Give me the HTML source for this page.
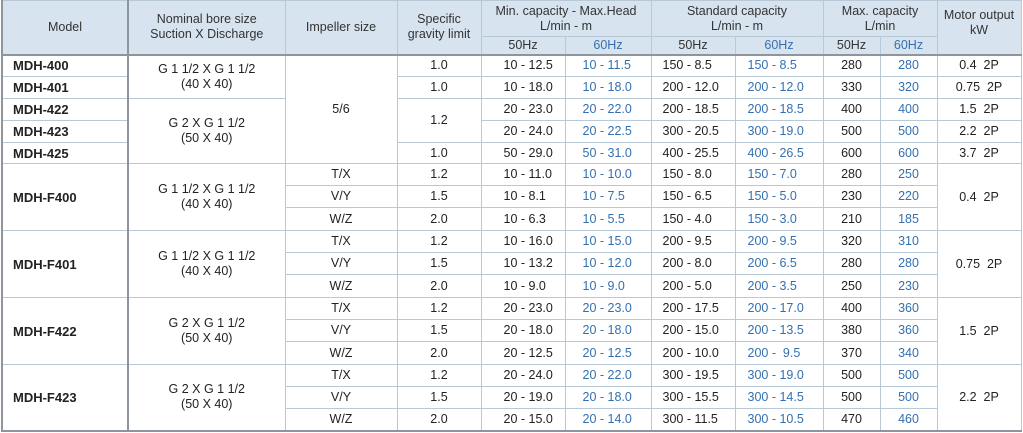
<!DOCTYPE html>
<html><head><meta charset="utf-8"><style>
html,body{margin:0;padding:0;background:#fff;width:1023px;height:433px;overflow:hidden}
table{border-collapse:collapse;table-layout:fixed;font-family:"Liberation Sans",sans-serif;font-size:12.5px;color:#222;position:absolute;left:1px;top:0}
td{border:1px solid #b7c8d7;padding:0;text-align:center;white-space:nowrap;overflow:hidden;line-height:15px}
thead td{background:#d7e4ef;color:#333}
.b{color:#3470b0}
.l{text-align:left}
.m{text-align:left;font-weight:bold;padding-left:10px;font-size:13px}
.tl{border-left:2px solid #8f959c}
.mc{border-right:2px solid #8f959c}
td.hb{border-bottom:2px solid #8f959c}
tr.g td{border-top:1px solid #a9bccc}
tr.last td, td.bb{border-bottom:2px solid #8f959c}
.p1{padding-left:22px}.p2{padding-left:17px}.p3{padding-left:11px}.p4{padding-left:12px}
</style></head><body>
<table>
<colgroup><col style="width:126px"><col style="width:157px"><col style="width:112px"><col style="width:84px"><col style="width:84px"><col style="width:86px"><col style="width:84px"><col style="width:88px"><col style="width:57px"><col style="width:57px"><col style="width:84px"></colgroup>
<thead>
<tr style="height:36px"><td rowspan="2" class="tl mc hb">Model</td><td rowspan="2" class="hb">Nominal bore size<br>Suction X Discharge</td><td rowspan="2" class="hb">Impeller size</td><td rowspan="2" class="hb">Specific<br>gravity limit</td><td colspan="2">Min. capacity - Max.Head<br>L/min - m</td><td colspan="2">Standard capacity<br>L/min - m</td><td colspan="2">Max. capacity<br>L/min</td><td rowspan="2" class="hb" style="vertical-align:top;padding-top:7px">Motor output<br>kW</td></tr>
<tr style="height:18px"><td class="hb">50Hz</td><td class="b hb">60Hz</td><td class="hb">50Hz</td><td class="b hb">60Hz</td><td class="hb">50Hz</td><td class="b hb">60Hz</td></tr>
</thead>
<tbody>
<tr style="height:22px"><td class="m tl mc">MDH-400</td><td rowspan="2">G 1 1/2 X G 1 1/2<br>(40 X 40)</td><td rowspan="5">5/6</td><td>1.0</td><td class="l p1">10 - 12.5</td><td class="l p2 b">10 - 11.5</td><td class="l p3">150 - 8.5</td><td class="l p4 b">150 - 8.5</td><td>280</td><td class="b">280</td><td>0.4&nbsp; 2P</td></tr>
<tr style="height:22px"><td class="m tl mc">MDH-401</td><td>1.0</td><td class="l p1">10 - 18.0</td><td class="l p2 b">10 - 18.0</td><td class="l p3">200 - 12.0</td><td class="l p4 b">200 - 12.0</td><td>330</td><td class="b">320</td><td>0.75&nbsp; 2P</td></tr>
<tr style="height:22px"><td class="m tl mc">MDH-422</td><td rowspan="3">G 2 X G 1 1/2<br>(50 X 40)</td><td rowspan="2">1.2</td><td class="l p1">20 - 23.0</td><td class="l p2 b">20 - 22.0</td><td class="l p3">200 - 18.5</td><td class="l p4 b">200 - 18.5</td><td>400</td><td class="b">400</td><td>1.5&nbsp; 2P</td></tr>
<tr style="height:22px"><td class="m tl mc">MDH-423</td><td class="l p1">20 - 24.0</td><td class="l p2 b">20 - 22.5</td><td class="l p3">300 - 20.5</td><td class="l p4 b">300 - 19.0</td><td>500</td><td class="b">500</td><td>2.2&nbsp; 2P</td></tr>
<tr style="height:21px"><td class="m tl mc">MDH-425</td><td>1.0</td><td class="l p1">50 - 29.0</td><td class="l p2 b">50 - 31.0</td><td class="l p3">400 - 25.5</td><td class="l p4 b">400 - 26.5</td><td>600</td><td class="b">600</td><td>3.7&nbsp; 2P</td></tr>

<tr style="height:22px" class="g"><td rowspan="3" class="m tl mc">MDH-F400</td><td rowspan="3">G 1 1/2 X G 1 1/2<br>(40 X 40)</td><td>T/X</td><td>1.2</td><td class="l p1">10 - 11.0</td><td class="l p2 b">10 - 10.0</td><td class="l p3">150 - 8.0</td><td class="l p4 b">150 - 7.0</td><td>280</td><td class="b">250</td><td rowspan="3">0.4&nbsp; 2P</td></tr>
<tr style="height:22px"><td>V/Y</td><td>1.5</td><td class="l p1">10 - 8.1</td><td class="l p2 b">10 - 7.5</td><td class="l p3">150 - 6.5</td><td class="l p4 b">150 - 5.0</td><td>230</td><td class="b">220</td></tr>
<tr style="height:23px"><td>W/Z</td><td>2.0</td><td class="l p1">10 - 6.3</td><td class="l p2 b">10 - 5.5</td><td class="l p3">150 - 4.0</td><td class="l p4 b">150 - 3.0</td><td>210</td><td class="b">185</td></tr>

<tr style="height:22px" class="g"><td rowspan="3" class="m tl mc">MDH-F401</td><td rowspan="3">G 1 1/2 X G 1 1/2<br>(40 X 40)</td><td>T/X</td><td>1.2</td><td class="l p1">10 - 16.0</td><td class="l p2 b">10 - 15.0</td><td class="l p3">200 - 9.5</td><td class="l p4 b">200 - 9.5</td><td>320</td><td class="b">310</td><td rowspan="3">0.75&nbsp; 2P</td></tr>
<tr style="height:22px"><td>V/Y</td><td>1.5</td><td class="l p1">10 - 13.2</td><td class="l p2 b">10 - 12.0</td><td class="l p3">200 - 8.0</td><td class="l p4 b">200 - 6.5</td><td>280</td><td class="b">280</td></tr>
<tr style="height:23px"><td>W/Z</td><td>2.0</td><td class="l p1">10 - 9.0</td><td class="l p2 b">10 - 9.0</td><td class="l p3">200 - 5.0</td><td class="l p4 b">200 - 3.5</td><td>250</td><td class="b">230</td></tr>

<tr style="height:22px" class="g"><td rowspan="3" class="m tl mc">MDH-F422</td><td rowspan="3">G 2 X G 1 1/2<br>(50 X 40)</td><td>T/X</td><td>1.2</td><td class="l p1">20 - 23.0</td><td class="l p2 b">20 - 23.0</td><td class="l p3">200 - 17.5</td><td class="l p4 b">200 - 17.0</td><td>400</td><td class="b">360</td><td rowspan="3">1.5&nbsp; 2P</td></tr>
<tr style="height:22px"><td>V/Y</td><td>1.5</td><td class="l p1">20 - 18.0</td><td class="l p2 b">20 - 18.0</td><td class="l p3">200 - 15.0</td><td class="l p4 b">200 - 13.5</td><td>380</td><td class="b">360</td></tr>
<tr style="height:23px"><td>W/Z</td><td>2.0</td><td class="l p1">20 - 12.5</td><td class="l p2 b">20 - 12.5</td><td class="l p3">200 - 10.0</td><td class="l p4 b">200 -&nbsp; 9.5</td><td>370</td><td class="b">340</td></tr>

<tr style="height:22px" class="g"><td rowspan="3" class="m tl mc bb">MDH-F423</td><td rowspan="3" class="bb">G 2 X G 1 1/2<br>(50 X 40)</td><td>T/X</td><td>1.2</td><td class="l p1">20 - 24.0</td><td class="l p2 b">20 - 22.0</td><td class="l p3">300 - 19.5</td><td class="l p4 b">300 - 19.0</td><td>500</td><td class="b">500</td><td rowspan="3" class="bb">2.2&nbsp; 2P</td></tr>
<tr style="height:22px"><td>V/Y</td><td>1.5</td><td class="l p1">20 - 19.0</td><td class="l p2 b">20 - 18.0</td><td class="l p3">300 - 15.5</td><td class="l p4 b">300 - 14.5</td><td>500</td><td class="b">500</td></tr>
<tr style="height:22px" class="last"><td>W/Z</td><td>2.0</td><td class="l p1">20 - 15.0</td><td class="l p2 b">20 - 14.0</td><td class="l p3">300 - 11.5</td><td class="l p4 b">300 - 10.5</td><td>470</td><td class="b">460</td></tr>
</tbody></table>
</body></html>
